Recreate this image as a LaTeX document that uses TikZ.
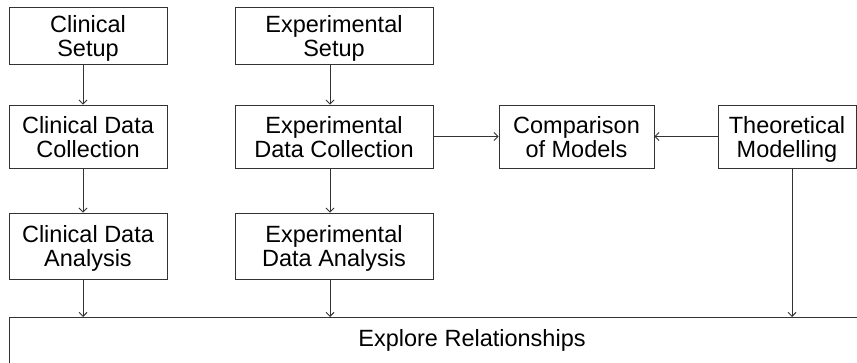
\documentclass[tikz,border=0pt]{standalone}
\usepackage{fontspec}
\setmainfont{Liberation Sans}
\usetikzlibrary{arrows.meta,calc}
\begin{document}
\begin{tikzpicture}[x=1pt,y=-1pt,
  box/.style={draw=black!80, line width=0.9pt, inner sep=0pt, align=center,
    text depth=0pt, font=\fontsize{23.5}{24}\selectfont, text=black},
  conn/.style={draw=black!80, line width=0.9pt, -{Straight Barb[length=4pt,width=8pt,line width=0.9pt]}}
]
\useasboundingbox (0,0) rectangle (857,363);
\clip (0,0) rectangle (857,363);
\fill[white] (0,0) rectangle (857,363);
% row 1
\node[box, minimum width=158pt, minimum height=57pt] (cs) at (88,35.5) {Clinical\\Setup};
\node[box, minimum width=198pt, minimum height=57pt] (es) at (334,35.5) {Experimental\\Setup};
% row 2
\node[box, minimum width=158pt, minimum height=63pt] (cdc) at (88,136.5) {Clinical Data\\Collection};
\node[box, minimum width=198pt, minimum height=63pt] (edc) at (334,136.5) {Experimental\\Data Collection};
\node[box, minimum width=155pt, minimum height=63pt] (cm) at (576.5,136.5) {Comparison\\of Models};
\node[box, minimum width=138pt, minimum height=63pt] (tm) at (787,136.5) {Theoretical\\Modelling};
% row 3
\node[box, minimum width=158pt, minimum height=66pt] (cda) at (88,246) {Clinical Data\\Analysis};
\node[box, minimum width=198pt, minimum height=66pt] (eda) at (334,246) {Experimental\\Data Analysis};
% bottom box
\node[box, draw=none, anchor=base] (er) at (472,347) {Explore Relationships};
\draw[draw=black!80, line width=0.9pt] (9,400) -- (9,317) -- (900,317);
\coordinate (erTop) at (9,317);
% column coordinates
\coordinate (cx) at (83,0);
\coordinate (ex) at (330,0);
\coordinate (tx) at (792,0);
% connectors
\draw[conn] (cs.south -| cx) -- (cdc.north -| cx);
\draw[conn] (cdc.south -| cx) -- (cda.north -| cx);
\draw[conn] (cda.south -| cx) -- (erTop -| cx);
\draw[conn] (es.south -| ex) -- (edc.north -| ex);
\draw[conn] (edc.south -| ex) -- (eda.north -| ex);
\draw[conn] (eda.south -| ex) -- (erTop -| ex);
\draw[conn] (edc.east) -- (cm.west);
\draw[conn] (tm.west) -- (cm.east);
\draw[conn] (tm.south -| tx) -- (erTop -| tx);
\end{tikzpicture}
\end{document}
